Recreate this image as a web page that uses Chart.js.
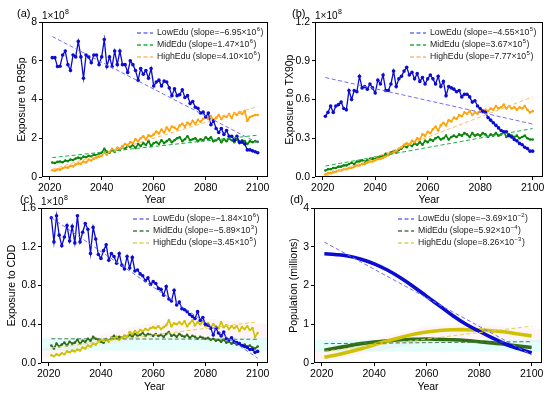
<!DOCTYPE html>
<html>
<head>
<meta charset="utf-8">
<script src="https://cdn.jsdelivr.net/npm/chart.js@4.4.1/dist/chart.umd.min.js"></script>
<style>
  body { margin:0; background:#fff; }
  #wrap { position:relative; width:550px; height:393px; overflow:hidden; background:#fff; }
  canvas { position:absolute; }
</style>
</head>
<body>
<div id="wrap">
  <canvas id="pa" width="275" height="206" style="left:0;top:0"></canvas>
  <canvas id="pb" width="275" height="206" style="left:275px;top:0"></canvas>
  <canvas id="pc" width="275" height="203" style="left:0;top:190px"></canvas>
  <canvas id="pd" width="275" height="203" style="left:275px;top:190px"></canvas>
</div>
<script>
// years 2021..2100
const years = [];
for (let y = 2021; y <= 2100; y++) years.push(y);
const yearsPop = [2021,2025,2030,2035,2040,2045,2050,2055,2060,2065,2070,2075,2080,2085,2090,2095,2100];
const trendYears = [2021, 2100];
const xTicks = [2020, 2040, 2060, 2080, 2100];
const groupNames = ['LowEdu', 'MidEdu', 'HighEdu'];

// (a) exposure to R95p, x1e8
const r95Low = [6.16,6.16,5.70,5.72,6.30,6.50,5.80,5.50,6.30,6.20,
  7.00,6.20,5.10,6.30,6.20,5.90,6.30,6.30,5.80,6.20,
  7.10,5.70,6.20,5.70,6.50,5.80,6.50,5.80,5.80,5.40,
  6.00,5.80,5.50,5.00,5.60,5.30,5.50,5.10,5.60,4.70,
  4.90,5.00,4.70,4.95,4.90,4.60,4.20,4.55,4.20,4.25,
  4.50,4.10,4.20,3.80,3.90,3.60,3.55,3.30,3.35,3.10,
  3.30,2.70,2.90,2.50,2.30,2.50,2.20,2.40,2.10,2.10,
  1.90,2.10,1.80,1.80,1.70,1.40,1.40,1.35,1.30,1.25];
const r95Mid = [0.75,0.72,0.78,0.80,0.76,0.85,0.82,0.90,0.88,0.95,
  1.00,0.95,1.05,1.02,1.10,1.05,1.15,1.12,1.20,1.25,
  1.45,1.30,1.25,1.40,1.30,1.50,1.40,1.55,1.45,1.60,
  1.55,1.65,1.50,1.70,1.60,1.75,1.65,1.85,1.60,1.75,
  1.80,1.70,1.90,1.75,1.85,1.95,1.80,1.90,2.00,2.05,
  1.85,1.95,2.10,1.90,1.95,2.00,1.85,1.95,1.90,2.05,
  1.95,2.05,1.85,1.90,2.00,1.80,1.95,1.85,2.00,1.90,
  1.80,1.95,1.75,1.90,1.85,1.70,1.85,1.80,1.85,1.82];
const r95High = [0.35,0.32,0.40,0.38,0.45,0.50,0.48,0.58,0.55,0.65,
  0.70,0.68,0.80,0.75,0.90,0.85,0.95,1.00,1.05,1.10,
  1.25,1.15,1.30,1.45,1.35,1.50,1.45,1.60,1.70,1.65,
  1.80,1.75,1.95,1.85,2.00,2.10,1.95,2.15,2.10,2.20,
  2.35,2.25,2.45,2.30,2.55,2.40,2.60,2.55,2.45,2.65,
  2.75,2.60,2.80,2.70,2.90,2.75,2.95,2.85,3.00,3.10,
  3.00,3.15,2.95,3.05,3.20,3.00,3.15,3.10,3.25,3.05,
  3.30,3.20,3.35,3.25,3.40,2.90,3.10,3.15,3.20,3.20];
const r95LowTrend = [7.25, 1.76];
const r95MidTrend = [1.00, 2.16];
const r95HighTrend = [0.40, 3.64];
const r95Ticks = [0, 2, 4, 6, 8];
const r95Slopes = ['\u22126.95', '1.47', '4.10'];
const r95Exps = ['6', '6', '6'];

// (b) exposure to TX90p, x1e8
const tx90Low = [0.47,0.50,0.55,0.50,0.55,0.56,0.58,0.53,0.52,0.67,
  0.60,0.67,0.66,0.78,0.69,0.70,0.68,0.72,0.69,0.65,
  0.75,0.72,0.79,0.67,0.67,0.72,0.82,0.70,0.76,0.78,
  0.82,0.85,0.79,0.81,0.76,0.80,0.74,0.77,0.72,0.76,
  0.79,0.76,0.72,0.78,0.70,0.74,0.63,0.70,0.69,0.68,
  0.66,0.67,0.62,0.64,0.64,0.62,0.58,0.59,0.55,0.53,
  0.51,0.50,0.46,0.44,0.42,0.40,0.38,0.36,0.35,0.35,
  0.32,0.31,0.29,0.28,0.26,0.25,0.23,0.22,0.20,0.20];
const tx90Mid = [0.05,0.06,0.06,0.07,0.07,0.08,0.08,0.09,0.09,0.10,
  0.11,0.10,0.12,0.12,0.13,0.12,0.13,0.14,0.14,0.15,
  0.15,0.16,0.16,0.18,0.17,0.19,0.20,0.19,0.21,0.22,
  0.24,0.23,0.25,0.24,0.26,0.25,0.27,0.25,0.28,0.27,
  0.29,0.28,0.30,0.31,0.29,0.30,0.32,0.29,0.31,0.32,
  0.31,0.33,0.32,0.34,0.33,0.31,0.34,0.32,0.33,0.32,
  0.34,0.33,0.31,0.33,0.32,0.34,0.32,0.33,0.35,0.31,
  0.33,0.32,0.31,0.32,0.30,0.31,0.32,0.30,0.29,0.29];
const tx90High = [0.02,0.03,0.03,0.04,0.04,0.05,0.05,0.06,0.06,0.07,
  0.07,0.08,0.09,0.09,0.10,0.10,0.11,0.12,0.12,0.13,
  0.14,0.14,0.15,0.16,0.17,0.18,0.19,0.20,0.22,0.23,
  0.25,0.26,0.25,0.28,0.27,0.30,0.29,0.33,0.32,0.35,
  0.34,0.37,0.39,0.36,0.40,0.42,0.40,0.44,0.43,0.46,
  0.45,0.48,0.47,0.50,0.49,0.51,0.48,0.50,0.49,0.51,
  0.50,0.52,0.51,0.53,0.52,0.55,0.53,0.54,0.56,0.53,
  0.55,0.53,0.54,0.52,0.54,0.53,0.55,0.52,0.50,0.51];
const tx90LowTrend = [0.77, 0.41];
const tx90MidTrend = [0.085, 0.375];
const tx90HighTrend = [0.005, 0.62];
const tx90Ticks = [0, 0.3, 0.6, 0.9, 1.2];
const tx90Slopes = ['\u22124.55', '3.67', '7.77'];
const tx90Exps = ['5', '5', '5'];

// (c) exposure to CDD, x1e8
const cddLow = [1.50,1.25,1.52,1.32,1.21,1.30,1.42,1.26,1.41,1.24,
  1.52,1.25,1.35,1.44,1.38,1.13,1.40,1.28,1.12,1.08,
  1.16,1.22,1.06,1.13,1.10,1.03,1.13,1.01,0.97,1.10,
  0.98,1.09,0.95,0.96,0.92,0.90,0.85,0.88,0.81,0.84,
  0.82,0.77,0.76,0.70,0.79,0.66,0.64,0.75,0.60,0.63,
  0.56,0.55,0.53,0.50,0.48,0.46,0.53,0.44,0.47,0.40,
  0.39,0.36,0.29,0.36,0.31,0.28,0.32,0.25,0.24,0.26,
  0.22,0.21,0.20,0.18,0.17,0.16,0.14,0.14,0.11,0.12];
const cddMid = [0.18,0.15,0.20,0.17,0.19,0.21,0.18,0.22,0.20,0.21,
  0.24,0.20,0.23,0.22,0.25,0.23,0.27,0.25,0.24,0.22,
  0.21,0.24,0.23,0.26,0.28,0.25,0.27,0.26,0.28,0.27,
  0.29,0.27,0.30,0.28,0.29,0.31,0.28,0.30,0.29,0.28,
  0.30,0.28,0.29,0.27,0.30,0.32,0.28,0.29,0.27,0.30,
  0.28,0.27,0.29,0.26,0.28,0.27,0.25,0.27,0.26,0.25,
  0.26,0.24,0.25,0.23,0.24,0.22,0.24,0.21,0.22,0.20,
  0.21,0.19,0.20,0.18,0.19,0.17,0.18,0.16,0.15,0.17];
const cddHigh = [0.08,0.07,0.09,0.08,0.10,0.09,0.12,0.11,0.13,0.12,
  0.14,0.13,0.16,0.15,0.18,0.17,0.20,0.19,0.22,0.24,
  0.23,0.25,0.22,0.26,0.25,0.27,0.24,0.26,0.28,0.27,
  0.32,0.30,0.33,0.31,0.34,0.33,0.35,0.34,0.36,0.37,
  0.36,0.38,0.35,0.37,0.39,0.44,0.38,0.41,0.40,0.42,
  0.40,0.43,0.38,0.41,0.44,0.39,0.42,0.40,0.43,0.38,
  0.41,0.37,0.40,0.38,0.36,0.42,0.37,0.39,0.35,0.38,
  0.36,0.38,0.33,0.37,0.35,0.38,0.34,0.36,0.27,0.31];
const cddLowTrend = [1.50, 0.05];
const cddMidTrend = [0.25, 0.245];
const cddHighTrend = [0.155, 0.425];
const cddTicks = [0, 0.4, 0.8, 1.2, 1.6];
const cddSlopes = ['\u22121.84', '\u22125.89', '3.45'];
const cddExps = ['6', '3', '5'];
const cddBandX = [2017, 2104];
const cddCyanLo = [0.13, 0.13];
const cddCyanHi = [0.26, 0.26];
const cddPinkX = [2017, 2040, 2060, 2080, 2104];
const cddPinkLo = [0.04, 0.18, 0.26, 0.28, 0.24];
const cddPinkHi = [0.14, 0.30, 0.42, 0.46, 0.40];

// (d) population, millions
const popLow = [2.82,2.80,2.76,2.68,2.56,2.40,2.20,1.97,1.72,1.47,1.22,1.00,0.82,0.65,0.49,0.37,0.26];
const popMid = [0.33,0.38,0.44,0.50,0.54,0.57,0.60,0.61,0.62,0.61,0.60,0.58,0.55,0.52,0.48,0.44,0.40];
const popHigh = [0.15,0.20,0.28,0.37,0.47,0.57,0.66,0.74,0.80,0.84,0.86,0.86,0.85,0.83,0.80,0.75,0.70];
const popLowTrend = [3.12, 0.21];
const popMidTrend = [0.50, 0.55];
const popHighTrend = [0.30, 0.95];
const popTicks = [0, 1, 2, 3, 4];
const popSlopes = ['\u22123.69', '5.92', '8.26'];
const popExps = ['\u22122', '\u22124', '\u22123'];
const popCyanLo = [0.30, 0.30];
const popCyanHi = [0.60, 0.60];
const popPinkLo = [0.00, 0.30, 0.55, 0.62, 0.52];
const popPinkHi = [0.30, 0.62, 0.95, 1.00, 0.88];

const FONT = '"Liberation Sans", Arial, Helvetica, sans-serif';
Chart.defaults.font.family = FONT;
Chart.defaults.color = '#000';

const BLUE_T = '#6f6ff4';
const colorsAB = ['#0b0bd2', '#0a860a', '#ffa30a'];
const trendAB = [BLUE_T, '#1fae48', '#ffb870'];
const colorsCD = ['#0b0bd2', '#2f6e16', '#cfc200'];
const trendCD = [BLUE_T, '#4a7a4a', '#e2cf5a'];

function pts(xs, ys) { return ys.map((v, i) => ({x: xs[i], y: v})); }

function panel(id, o) {
  const ds = [];
  (o.bands || []).forEach(b => {
    ds.push({data: pts(b.x, b.lo), borderWidth: 0, pointRadius: 0, fill: false, order: 9});
    ds.push({data: pts(b.x, b.hi), borderWidth: 0, pointRadius: 0, fill: '-1',
             backgroundColor: b.color, order: 9});
  });
  const lineOrder = [3, 5, 4];
  o.vals.forEach((v, i) => {
    ds.push({
      data: pts(o.x, v), borderColor: o.colors[i], backgroundColor: o.colors[i],
      borderWidth: o.lw[i], pointRadius: o.pr[i], pointBorderWidth: 0,
      pointBackgroundColor: o.colors[i], tension: o.tension || 0, fill: false, order: lineOrder[i]
    });
  });
  o.trend.forEach((t, i) => {
    ds.push({data: pts(trendYears, t), borderColor: o.tcolors[i], borderWidth: 1,
             borderDash: [4, 2.5], pointRadius: 0, fill: false, order: 1});
  });

  // box, panel letter, 1x10^8 and legend
  const decor = {
    id: 'decor',
    afterDraw(chart) {
      const ctx = chart.ctx, a = chart.chartArea;
      ctx.save();
      ctx.strokeStyle = '#000';
      ctx.lineWidth = 1;
      ctx.strokeRect(a.left + 0.5, a.top + 0.5, a.right - a.left - 1, a.bottom - a.top - 1);

      ctx.fillStyle = '#000';
      ctx.textBaseline = 'alphabetic';
      ctx.font = '11px ' + FONT;
      ctx.fillText(o.letter, o.letterX, a.top - 5);
      if (o.mult) {
        ctx.font = '10px ' + FONT;
        ctx.fillText('1\u00d710', a.left, a.top - 3.5);
        const w = ctx.measureText('1\u00d710').width;
        ctx.font = '7px ' + FONT;
        ctx.fillText(o.mult, a.left + w + 0.5, a.top - 8);
      }

      const lf = '8.7px ' + FONT, sf = '6px ' + FONT;
      groupNames.forEach((nm, i) => {
        const y = a.top + 11 + 12 * i;
        const x = a.left + o.legX;
        ctx.strokeStyle = o.tcolors[i];
        ctx.lineWidth = 1.3;
        ctx.setLineDash([4, 2.5]);
        ctx.beginPath(); ctx.moveTo(x, y); ctx.lineTo(x + 16, y); ctx.stroke();
        ctx.setLineDash([]);
        ctx.fillStyle = '#1a1a1a';
        ctx.textBaseline = 'middle';
        ctx.font = lf;
        const s = nm + ' (slope=' + o.slopes[i] + '\u00d710';
        ctx.fillText(s, x + 20, y);
        const w = ctx.measureText(s).width;
        ctx.font = sf;
        ctx.fillText(o.exps[i], x + 20 + w + 0.5, y - 3.5);
        const w2 = ctx.measureText(o.exps[i]).width;
        ctx.font = lf;
        ctx.fillText(')', x + 20 + w + w2 + 1, y);
      });
      ctx.restore();
    }
  };

  return new Chart(document.getElementById(id), {
    type: 'line',
    data: {datasets: ds},
    plugins: [decor],
    options: {
      responsive: false, animation: false, devicePixelRatio: 1,
      layout: {padding: {left: 0, top: o.area.top, right: o.area.right, bottom: 0}},
      plugins: {legend: {display: false}, tooltip: {enabled: false}},
      scales: {
        x: {
          type: 'linear', min: 2017.05, max: 2103.95,
          afterBuildTicks: s => { s.ticks = xTicks.map(v => ({value: v})); },
          afterFit: s => { s.height = o.area.xh; },
          ticks: {callback: v => String(v), maxRotation: 0, autoSkip: false, padding: 2, font: {size: 10.5}},
          grid: {drawOnChartArea: false, drawTicks: true, tickLength: 3, tickColor: '#000'},
          border: {display: false},
          title: {display: true, text: 'Year', font: {size: 10.5}, padding: {top: 0, bottom: 0}}
        },
        y: {
          min: o.yTicks[0], max: o.yTicks[o.yTicks.length - 1],
          afterBuildTicks: s => { s.ticks = o.yTicks.map(v => ({value: v})); },
          afterFit: s => { s.width = o.area.yw; },
          ticks: {callback: v => v.toFixed(o.dec), padding: 2, font: {size: 10.5}},
          grid: {drawOnChartArea: false, drawTicks: true, tickLength: 3, tickColor: '#000'},
          border: {display: false},
          title: {display: true, text: o.yTitle, font: {size: 10.5}, padding: {top: o.titlePad, bottom: 0}}
        }
      }
    }
  });
}

panel('pa', {
  x: years, vals: [r95Low, r95Mid, r95High], trend: [r95LowTrend, r95MidTrend, r95HighTrend],
  colors: colorsAB, tcolors: trendAB, lw: [1.3, 1.6, 1.6], pr: [1.8, 1.3, 1.3],
  yTicks: r95Ticks, dec: 0, yTitle: 'Exposure to R95p', titlePad: 15.5,
  slopes: r95Slopes, exps: r95Exps, letter: '(a)', letterX: 17, mult: '8', legX: 95,
  area: {top: 22, right: 7, yw: 42, xh: 29}
});
panel('pb', {
  x: years, vals: [tx90Low, tx90Mid, tx90High], trend: [tx90LowTrend, tx90MidTrend, tx90HighTrend],
  colors: colorsAB, tcolors: trendAB, lw: [1.3, 1.6, 1.6], pr: [1.8, 1.3, 1.3],
  yTicks: tx90Ticks, dec: 1, yTitle: 'Exposure to TX90p', titlePad: 8.7,
  slopes: tx90Slopes, exps: tx90Exps, letter: '(b)', letterX: 17, mult: '8', legX: 95,
  area: {top: 22, right: 7, yw: 40, xh: 29}
});
panel('pc', {
  x: years, vals: [cddLow, cddMid, cddHigh], trend: [cddLowTrend, cddMidTrend, cddHighTrend],
  colors: colorsCD, tcolors: trendCD, lw: [1.3, 1.6, 1.6], pr: [1.8, 1.3, 1.3],
  yTicks: cddTicks, dec: 1, yTitle: 'Exposure to CDD', titlePad: 6,
  slopes: cddSlopes, exps: cddExps, letter: '(c)', letterX: 20, mult: '8', legX: 92,
  bands: [
    {x: cddBandX, lo: cddCyanLo, hi: cddCyanHi, color: 'rgba(0,235,215,0.10)'},
    {x: cddPinkX, lo: cddPinkLo, hi: cddPinkHi, color: 'rgba(255,110,170,0.08)'}
  ],
  area: {top: 18, right: 7, yw: 41, xh: 30}
});
panel('pd', {
  x: yearsPop, vals: [popLow, popMid, popHigh], trend: [popLowTrend, popMidTrend, popHighTrend],
  colors: colorsCD, tcolors: trendCD, lw: [3.6, 3.6, 3.6], pr: [0, 0, 0], tension: 0.4,
  yTicks: popTicks, dec: 0, yTitle: 'Population (millions)', titlePad: 12.5,
  slopes: popSlopes, exps: popExps, letter: '(d)', letterX: 15, mult: null, legX: 84,
  bands: [
    {x: cddBandX, lo: popCyanLo, hi: popCyanHi, color: 'rgba(0,235,215,0.10)'},
    {x: cddPinkX, lo: popPinkLo, hi: popPinkHi, color: 'rgba(255,110,170,0.08)'}
  ],
  area: {top: 18, right: 8, yw: 39, xh: 30}
});
</script>
</body>
</html>
